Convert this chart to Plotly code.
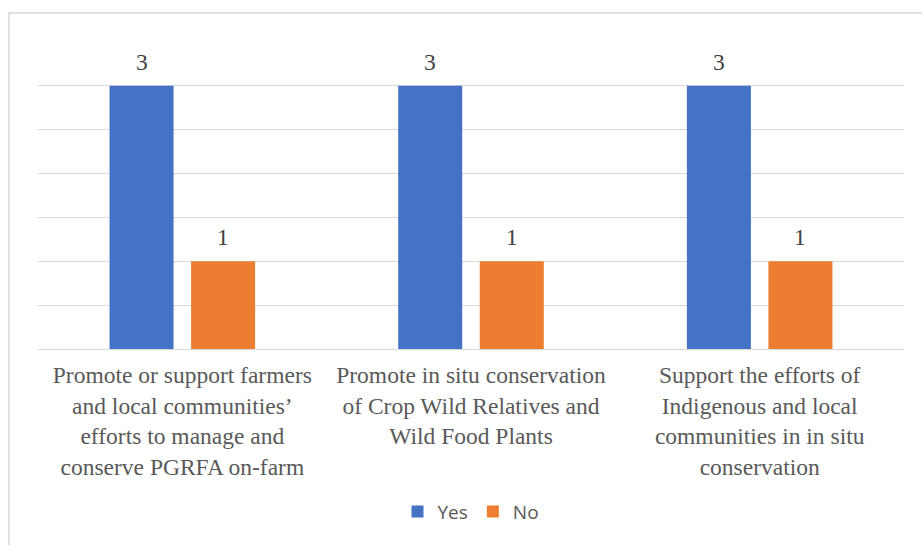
import plotly.graph_objects as go

categories = [
    "Promote or support farmers<br>and local communities’<br>efforts to manage and<br>conserve PGRFA on-farm",
    "Promote in situ conservation<br>of Crop Wild Relatives and<br>Wild Food Plants",
    "Support the efforts of<br>Indigenous and local<br>communities in in situ<br>conservation",
]
yes_values = [3, 3, 3]
no_values = [1, 1, 1]

serif = "Liberation Serif, Times New Roman, serif"

W, H = 922, 545
M_L, M_R, M_T, M_B = 38, 18, 42, 196
BARGAP, BARGROUPGAP = 0.435, 0.215

fig = go.Figure()
fig.add_trace(go.Bar(
    x=categories, y=yes_values, name="Yes",
    marker=dict(color="#4472C4", line=dict(width=0)),
))
fig.add_trace(go.Bar(
    x=categories, y=no_values, name="No",
    marker=dict(color="#ED7D31", line=dict(width=0)),
))

# value labels above each bar; horizontal offset of each bar within its group
slot = (W - M_L - M_R) / len(categories) * (1 - BARGAP) / 2
annotations = []
for series, shift in ((yes_values, -slot / 2), (no_values, slot / 2)):
    for cat, val in zip(categories, series):
        annotations.append(dict(
            x=cat, y=val, xref="x", yref="y", text=str(val), showarrow=False,
            xanchor="center", yanchor="bottom", xshift=shift, yshift=9,
            font=dict(family=serif, size=23.5, color="#404040"),
        ))

fig.update_layout(
    width=W, height=H,
    margin=dict(l=M_L, r=M_R, t=M_T, b=M_B),
    paper_bgcolor="white", plot_bgcolor="white",
    barmode="group", bargap=BARGAP, bargroupgap=BARGROUPGAP,
    showlegend=True,
    legend=dict(
        orientation="h", x=0.5, xanchor="center", y=-0.53, yanchor="middle",
        font=dict(family="Open Sans, sans-serif", size=19, color="#595959"),
        itemwidth=30, traceorder="normal",
    ),
    xaxis=dict(
        showgrid=False, showline=True, linecolor="#d9d9d9", linewidth=1,
        ticks="outside", ticklen=5, tickcolor="rgba(0,0,0,0)",
        tickfont=dict(family=serif, size=23.5, color="#595959"),
        tickangle=0, fixedrange=True,
    ),
    yaxis=dict(
        range=[0, 3.5], dtick=0.5, showgrid=True, gridcolor="#d9d9d9", gridwidth=1,
        showticklabels=False, zeroline=False, showline=False, fixedrange=True,
    ),
    annotations=annotations,
    shapes=[dict(
        type="rect", xref="paper", yref="paper",
        x0=-0.0335, x1=1.03, y0=-0.68, y1=1.0945,
        line=dict(color="#d9d9d9", width=1.5), fillcolor="rgba(0,0,0,0)",
        layer="below",
    )],
)

fig.write_html("out.html")
